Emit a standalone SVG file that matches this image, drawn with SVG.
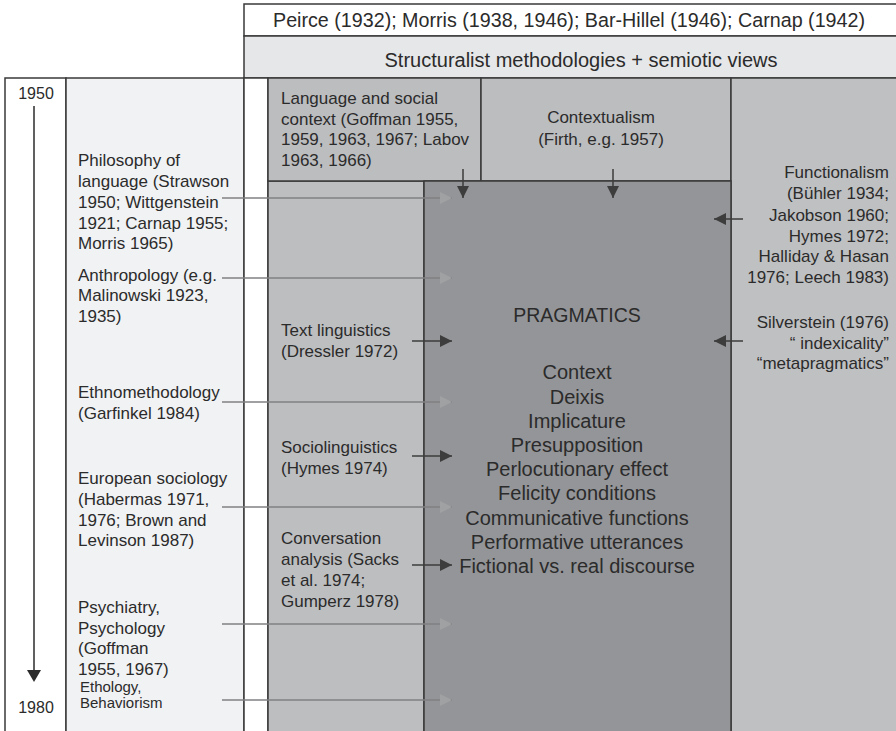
<svg xmlns="http://www.w3.org/2000/svg" width="896" height="731" viewBox="0 0 896 731">
<style>
text{font-family:"Liberation Sans",Arial,Helvetica,sans-serif;fill:#2b2b2b}
.s17{font-size:17px}
.s15{font-size:15px}
.s20{font-size:20px}
.mid{text-anchor:middle}
.end{text-anchor:end}
.bd{stroke:#3a3a3a;stroke-width:1.5}
.ga{stroke:#808183;stroke-width:1.5;fill:none}
.da{stroke:#3d3d3d;stroke-width:1.5;fill:none}
</style>
<defs>
<marker id="mg" markerUnits="userSpaceOnUse" markerWidth="13" markerHeight="13" refX="12" refY="6" orient="auto"><path d="M0,0 L12,6 L0,12 Z" fill="#a0a1a3"/></marker>
<marker id="md" markerUnits="userSpaceOnUse" markerWidth="13" markerHeight="13" refX="12" refY="6" orient="auto"><path d="M0,0 L12,6 L0,12 Z" fill="#3d3d3d"/></marker>
</defs>
<rect width="896" height="731" fill="#ffffff"/>
<g id="header-authors">
<rect x="244" y="4" width="660" height="32" fill="#ffffff" class="bd"/>
<text class="mid" x="569" y="27" style="font-size:19.7px">Peirce (1932); Morris (1938, 1946); Bar-Hillel (1946); Carnap (1942)</text>
</g>
<g id="header-structuralist">
<rect x="244" y="36" width="660" height="42" fill="#e6e7e8" class="bd"/>
<text class="mid s20" x="581" y="67">Structuralist methodologies + semiotic views</text>
</g>
<g id="timeline">
<rect x="5" y="78" width="61" height="660" fill="#ffffff" class="bd"/>
<text class="mid" x="36" y="99" style="font-size:16px">1950</text>
<line x1="34" y1="106" x2="34" y2="672" stroke="#2b2b2b" stroke-width="1.5"/>
<polygon points="27,670 41,670 34,682" fill="#2b2b2b"/>
<text class="mid" x="36" y="713" style="font-size:16px">1980</text>
</g>
<g id="disciplines">
<rect x="66" y="78" width="178" height="660" fill="#f1f2f4" class="bd"/>
<text class="s17"><tspan x="78" y="166">Philosophy of</tspan><tspan x="78" y="186.5">language (Strawson</tspan><tspan x="78" y="207.5">1950; Wittgenstein</tspan><tspan x="78" y="228.5">1921; Carnap 1955;</tspan><tspan x="78" y="249">Morris 1965)</tspan></text>
<text class="s17"><tspan x="78" y="281">Anthropology (e.g.</tspan><tspan x="78" y="301">Malinowski 1923,</tspan><tspan x="78" y="321.5">1935)</tspan></text>
<text class="s17"><tspan x="78" y="398">Ethnomethodology</tspan><tspan x="78" y="419">(Garfinkel 1984)</tspan></text>
<text class="s17"><tspan x="78" y="484">European sociology</tspan><tspan x="78" y="505">(Habermas 1971,</tspan><tspan x="78" y="525.5">1976; Brown and</tspan><tspan x="78" y="546">Levinson 1987)</tspan></text>
<text class="s17"><tspan x="78" y="613">Psychiatry,</tspan><tspan x="78" y="633.5">Psychology</tspan><tspan x="78" y="654">(Goffman</tspan><tspan x="78" y="674.5">1955, 1967)</tspan></text>
<text class="s15"><tspan x="80" y="692">Ethology,</tspan><tspan x="80" y="708">Behaviorism</tspan></text>
</g>
<g id="gap">
<rect x="244" y="78" width="24" height="660" fill="#ffffff" class="bd"/>
</g>
<g id="linguistics-column">
<rect x="268" y="181" width="156" height="557" fill="#bdbec0" class="bd"/>
<text class="s17"><tspan x="281" y="336">Text linguistics</tspan><tspan x="281" y="357">(Dressler 1972)</tspan></text>
<text class="s17"><tspan x="281" y="453">Sociolinguistics</tspan><tspan x="281" y="474">(Hymes 1974)</tspan></text>
<text class="s17"><tspan x="281" y="544">Conversation</tspan><tspan x="281" y="565">analysis (Sacks</tspan><tspan x="281" y="586">et al. 1974;</tspan><tspan x="281" y="607">Gumperz 1978)</tspan></text>
</g>
<g id="language-social-context">
<rect x="268" y="78" width="213" height="103" fill="#bcbdbf" class="bd"/>
<text class="s17"><tspan x="281" y="104">Language and social</tspan><tspan x="281" y="124.5">context (Goffman 1955,</tspan><tspan x="281" y="145">1959, 1963, 1967; Labov</tspan><tspan x="281" y="165.5">1963, 1966)</tspan></text>
</g>
<g id="contextualism">
<rect x="481" y="78" width="250" height="103" fill="#bcbdbf" class="bd"/>
<text class="s17 mid"><tspan x="601" y="123">Contextualism</tspan><tspan x="601" y="145">(Firth, e.g. 1957)</tspan></text>
</g>
<g id="functional-column">
<rect x="731" y="78" width="180" height="660" fill="#bfc0c2" class="bd"/>
<text class="s17 end"><tspan x="889" y="178">Functionalism</tspan><tspan x="889" y="199">(Bühler 1934;</tspan><tspan x="889" y="220.5">Jakobson 1960;</tspan><tspan x="889" y="241.5">Hymes 1972;</tspan><tspan x="889" y="262">Halliday &amp; Hasan</tspan><tspan x="889" y="283">1976; Leech 1983)</tspan></text>
<text class="s17 end"><tspan x="889" y="328">Silverstein (1976)</tspan><tspan x="889" y="349">“ indexicality”</tspan><tspan x="889" y="369">“metapragmatics”</tspan></text>
</g>
<g id="pragmatics">
<rect x="424" y="181" width="307" height="557" fill="#949598" class="bd"/>
<text class="mid" x="577" y="322" style="font-size:19.5px">PRAGMATICS</text>
<text class="mid s20"><tspan x="577" y="379">Context</tspan><tspan x="577" y="403.5">Deixis</tspan><tspan x="577" y="427.5">Implicature</tspan><tspan x="577" y="451.5">Presupposition</tspan><tspan x="577" y="476">Perlocutionary effect</tspan><tspan x="577" y="500">Felicity conditions</tspan><tspan x="577" y="524.5">Communicative functions</tspan><tspan x="577" y="548.5">Performative utterances</tspan><tspan x="577" y="573">Fictional vs. real discourse</tspan></text>
</g>
<g id="connectors">
<line class="ga" x1="222" y1="198" x2="452" y2="198" marker-end="url(#mg)"/>
<line class="ga" x1="222" y1="278" x2="452" y2="278" marker-end="url(#mg)"/>
<line class="ga" x1="222" y1="402" x2="452" y2="402" marker-end="url(#mg)"/>
<line class="ga" x1="222" y1="507" x2="452" y2="507" marker-end="url(#mg)"/>
<line class="ga" x1="222" y1="624" x2="452" y2="624" marker-end="url(#mg)"/>
<line class="ga" x1="222" y1="700" x2="452" y2="700" marker-end="url(#mg)"/>
<line class="da" x1="412" y1="341" x2="452" y2="341" marker-end="url(#md)"/>
<line class="da" x1="412" y1="456" x2="452" y2="456" marker-end="url(#md)"/>
<line class="da" x1="412" y1="565" x2="452" y2="565" marker-end="url(#md)"/>
<line class="da" x1="463" y1="169" x2="463" y2="198" marker-end="url(#md)"/>
<line class="da" x1="613" y1="169" x2="613" y2="198" marker-end="url(#md)"/>
<line class="da" x1="743" y1="219" x2="714" y2="219" marker-end="url(#md)"/>
<line class="da" x1="743" y1="341" x2="714" y2="341" marker-end="url(#md)"/>
</g>
</svg>
